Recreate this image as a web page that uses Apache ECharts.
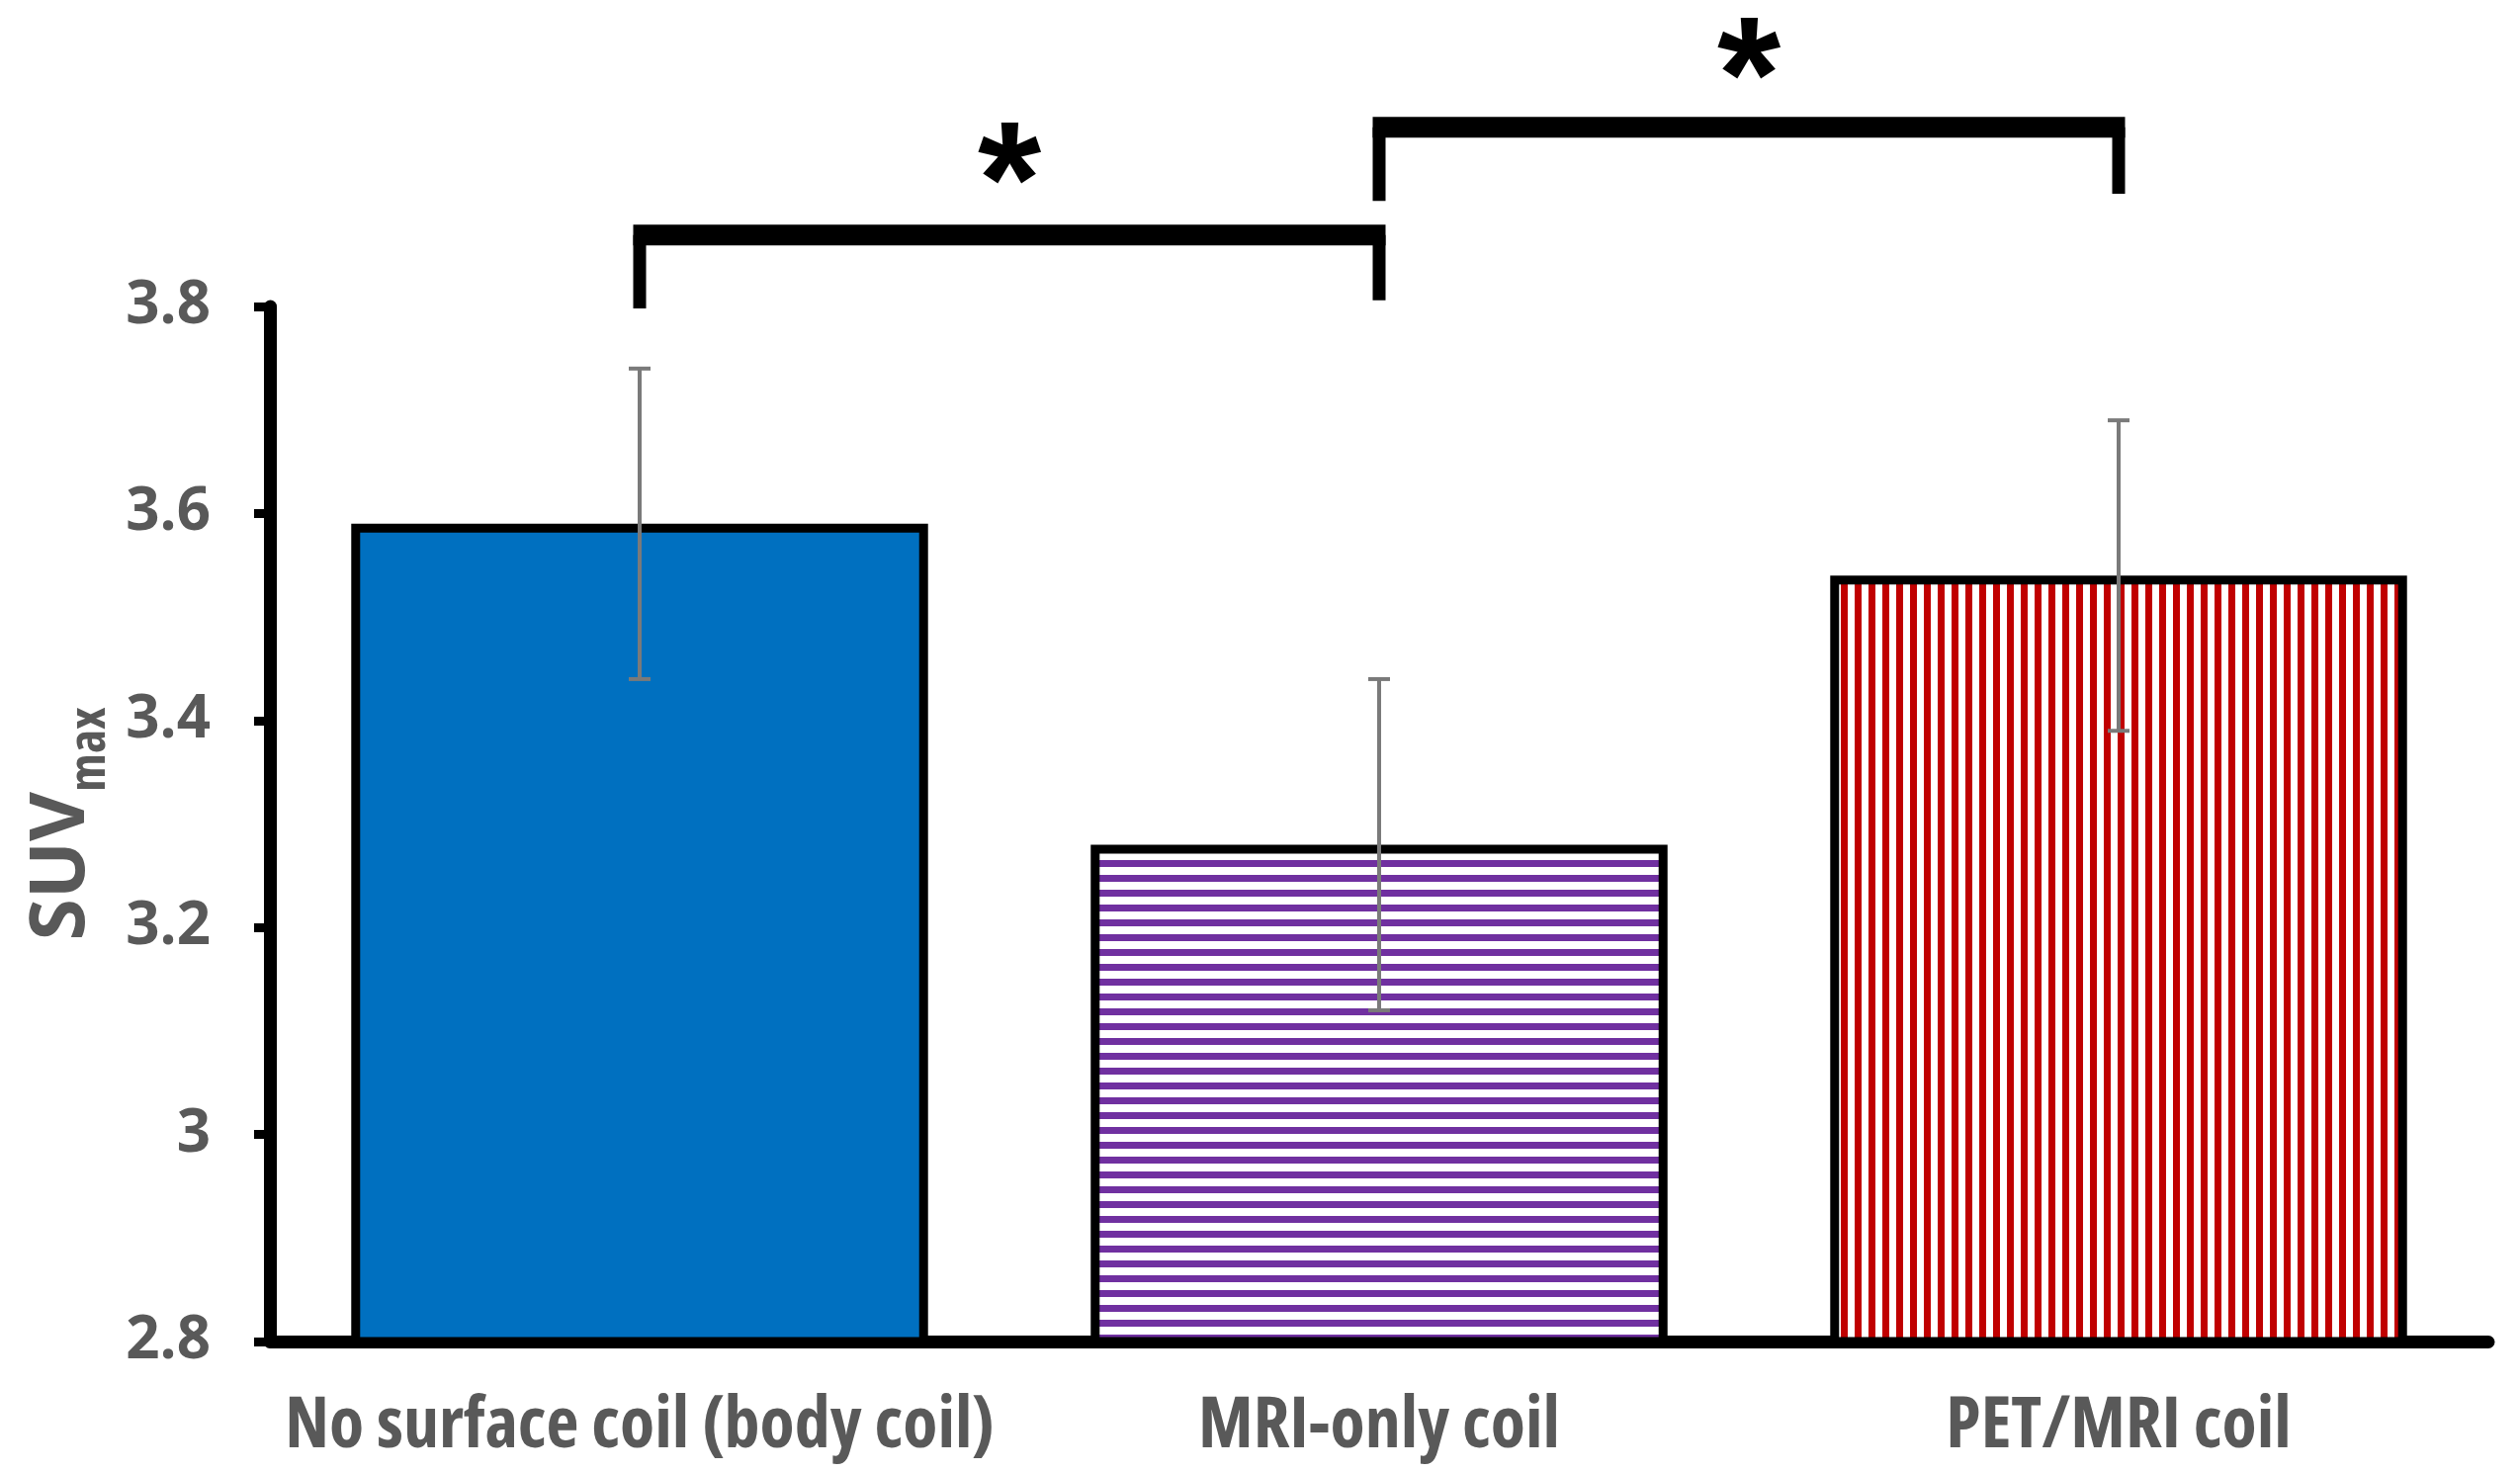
<!DOCTYPE html>
<html>
<head>
<meta charset="utf-8">
<script src="https://cdn.jsdelivr.net/npm/echarts@6/dist/echarts.min.js"></script>
<style>
html,body{margin:0;padding:0;background:#fff;}
#chart{width:2549px;height:1489px;}
</style>
</head>
<body>
<div id="chart"></div>
<script>
// ---- data ----
const categories = ['No surface coil (body coil)', 'MRI-only coil', 'PET/MRI coil'];
const suvMax = [3.59, 3.28, 3.54];
const suvErr = [0.15, 0.16, 0.15];
const yTicks = [2.8, 3, 3.2, 3.4, 3.6, 3.8];
// significance brackets: [fromIdx, toIdx, barLevel, leftEnd, rightEnd, starLevel]
const brackets = [
  [0, 1, 3.869, 3.798, 3.806, 3.948],
  [1, 2, 3.973, 3.902, 3.909, 4.050]
];
const sigLabels = ['*', '*'];

// ---- styles ----
const FONT = "'Open Sans', 'Liberation Sans', sans-serif";
const GRAY = '#595959';

function stripePattern(color, period, thick, vertical) {
  const c = document.createElement('canvas');
  c.width = vertical ? period : 4;
  c.height = vertical ? 4 : period;
  const ctx = c.getContext('2d');
  ctx.fillStyle = '#ffffff';
  ctx.fillRect(0, 0, c.width, c.height);
  ctx.fillStyle = color;
  if (vertical) ctx.fillRect(0, 0, thick, c.height);
  else ctx.fillRect(0, 0, c.width, thick);
  return { image: c, repeat: 'repeat' };
}
const barFills = [
  '#0070C0',
  stripePattern('#7030A0', 15, 7, false),
  stripePattern('#C00000', 14, 7, true)
];

const chart = echarts.init(document.getElementById('chart'), null, { renderer: 'canvas' });

const option = {
  backgroundColor: '#ffffff',
  animation: false,
  grid: { left: 273, right: 32, top: 310, bottom: 132, outerBoundsMode: 'none' },
  xAxis: {
    type: 'category',
    data: categories,
    axisLine: { lineStyle: { color: '#000', width: 13 } },
    axisTick: { show: false },
    axisLabel: {
      color: GRAY, fontFamily: FONT, fontWeight: 'bold condensed', fontSize: 72, margin: 50, interval: 0
    }
  },
  yAxis: {
    type: 'value',
    min: yTicks[0],
    max: yTicks[yTicks.length - 1],
    interval: 0.2,
    splitLine: { show: false },
    axisLine: { show: true, lineStyle: { color: '#000', width: 13 } },
    axisTick: { show: true, length: 16, lineStyle: { color: '#000', width: 9 } },
    axisLabel: { color: GRAY, fontFamily: FONT, fontWeight: 'bold', fontSize: 60, margin: 60 },
    name: '{a|SUV}{b|max}',
    nameLocation: 'middle',
    nameRotate: 90,
    nameGap: 156,
    nameMoveOverlap: false,
    nameTextStyle: {
      rich: {
        a: { fontFamily: FONT, fontWeight: 'bold', fontSize: 77, color: GRAY },
        b: { fontFamily: FONT, fontWeight: 'bold semi-condensed', fontSize: 52, color: GRAY, padding: [56, 0, 0, 0] }
      }
    }
  },
  series: [
    {
      type: 'bar',
      barWidth: '78%',
      data: suvMax.map((v, i) => ({
        value: v,
        itemStyle: { color: barFills[i], borderColor: '#000', borderWidth: 9 }
      })),
      z: 2
    },
    {
      type: 'custom',
      data: suvMax.map((v, i) => [i, v, suvErr[i]]),
      encode: { x: 0, y: 1 },
      z: 5,
      renderItem: function (params, api) {
        const i = api.value(0), v = api.value(1), e = api.value(2);
        const t = api.coord([i, v + e]);
        const b = api.coord([i, v - e]);
        const h = 11;
        const st = { stroke: '#7a7a7a', lineWidth: 4 };
        return {
          type: 'group',
          children: [
            { type: 'line', shape: { x1: t[0], y1: t[1], x2: b[0], y2: b[1] }, style: st },
            { type: 'line', shape: { x1: t[0] - h, y1: t[1], x2: t[0] + h, y2: t[1] }, style: st },
            { type: 'line', shape: { x1: b[0] - h, y1: b[1], x2: b[0] + h, y2: b[1] }, style: st }
          ]
        };
      }
    },
    {
      type: 'custom',
      data: brackets,
      encode: { x: [0, 1], y: [2] },
      clip: false,
      z: 6,
      renderItem: function (params, api) {
        const from = api.value(0), to = api.value(1);
        const yH = api.value(2), yL = api.value(3), yR = api.value(4), yS = api.value(5);
        const a = api.coord([from, yH]);
        const b = api.coord([to, yH]);
        const la = api.coord([from, yL]);
        const rb = api.coord([to, yR]);
        const s = api.coord([from, yS]);
        const vw = 13, hw = 21, fs = 165;
        return {
          type: 'group',
          children: [
            { type: 'rect', shape: { x: a[0] - vw / 2, y: a[1] - hw / 2, width: b[0] - a[0] + vw, height: hw }, style: { fill: '#000' } },
            { type: 'rect', shape: { x: a[0] - vw / 2, y: a[1], width: vw, height: la[1] - a[1] }, style: { fill: '#000' } },
            { type: 'rect', shape: { x: b[0] - vw / 2, y: b[1], width: vw, height: rb[1] - b[1] }, style: { fill: '#000' } },
            {
              type: 'text',
              x: (a[0] + b[0]) / 2,
              y: s[1] + fs * 0.23,
              style: {
                text: sigLabels[params.dataIndex],
                fontFamily: "'Liberation Sans', sans-serif",
                fontWeight: 'bold',
                fontSize: fs,
                fill: '#000',
                align: 'center',
                verticalAlign: 'middle'
              }
            }
          ]
        };
      }
    }
  ]
};
chart.setOption(option);
</script>
</body>
</html>
